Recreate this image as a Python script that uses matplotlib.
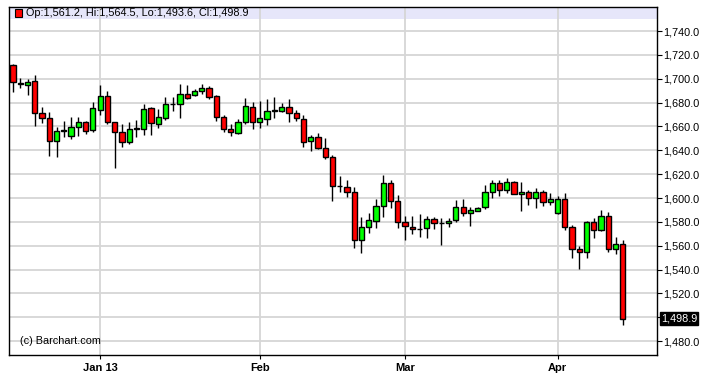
import numpy as np
import matplotlib

matplotlib.use("Agg")
import matplotlib.pyplot as plt
from matplotlib.patches import Rectangle
import matplotlib.transforms as mtransforms

# daily OHLC, mid Dec 2012 .. 12 Apr 2013
opens = [1711.2, 1696.6, 1694.7, 1698.0, 1671.0, 1666.8, 1647.7, 1656.4, 1651.7, 1659.2,
         1663.4, 1656.7, 1673.5, 1685.7, 1663.4, 1655.0, 1646.6, 1658.3, 1657.6, 1675.2,
         1661.7, 1666.8, 1678.5, 1679.0, 1686.9, 1686.0, 1689.7, 1692.0, 1685.7, 1667.6,
         1658.3, 1654.7, 1663.4, 1676.5, 1663.4, 1666.0, 1673.2, 1672.9, 1676.5, 1671.0,
         1666.0, 1647.5, 1650.8, 1641.6, 1634.1, 1609.7, 1608.9, 1604.7, 1564.5, 1575.6,
         1580.4, 1593.0, 1612.8, 1597.2, 1579.6, 1575.4, 1574.0, 1574.5, 1582.6, 1578.7,
         1578.7, 1581.5, 1592.1, 1587.1, 1589.3, 1592.1, 1604.7, 1612.3, 1606.6, 1613.6,
         1603.0, 1604.7, 1599.7, 1604.7, 1596.3, 1587.1, 1598.8, 1575.4, 1557.7, 1554.4,
         1580.1, 1573.1, 1584.6, 1557.7, 1561.2]
highs = [1712.0, 1700.3, 1700.0, 1703.0, 1676.5, 1671.8, 1659.7, 1665.0, 1667.9, 1667.6,
         1664.8, 1680.7, 1694.7, 1689.7, 1664.0, 1662.0, 1663.9, 1665.4, 1678.5, 1676.0,
         1674.3, 1684.4, 1684.4, 1695.3, 1694.7, 1691.3, 1696.0, 1694.1, 1686.0, 1669.5,
         1661.7, 1666.2, 1683.5, 1680.7, 1681.3, 1682.7, 1684.4, 1679.9, 1683.0, 1673.7,
         1669.5, 1652.8, 1654.2, 1650.0, 1636.0, 1618.6, 1615.0, 1609.4, 1584.3, 1587.1,
         1598.8, 1619.2, 1615.0, 1602.4, 1584.8, 1584.8, 1586.5, 1584.8, 1584.3, 1582.9,
         1583.4, 1598.3, 1598.8, 1592.1, 1592.6, 1610.8, 1615.0, 1615.0, 1616.5, 1614.5,
         1613.1, 1606.6, 1608.1, 1606.6, 1603.9, 1601.9, 1603.9, 1577.3, 1559.9, 1580.9,
         1583.4, 1589.9, 1588.0, 1567.5, 1564.5]
lows = [1689.0, 1692.4, 1686.3, 1660.6, 1662.6, 1635.4, 1634.6, 1651.1, 1649.4, 1652.2,
        1653.9, 1655.0, 1669.5, 1662.0, 1625.3, 1642.5, 1645.2, 1650.8, 1652.8, 1652.8,
        1658.4, 1665.4, 1673.2, 1666.8, 1683.0, 1685.5, 1686.9, 1683.0, 1664.8, 1655.5,
        1651.9, 1653.6, 1662.0, 1657.6, 1658.4, 1661.2, 1666.8, 1672.5, 1663.4, 1664.8,
        1643.0, 1639.4, 1641.0, 1632.6, 1597.4, 1604.7, 1600.5, 1558.3, 1554.1, 1570.8,
        1574.5, 1584.3, 1591.8, 1574.5, 1564.5, 1569.5, 1567.5, 1566.1, 1574.0, 1560.8,
        1575.9, 1579.6, 1585.1, 1576.7, 1589.0, 1590.7, 1599.7, 1601.9, 1603.9, 1603.0,
        1589.3, 1594.1, 1591.3, 1593.5, 1594.5, 1586.5, 1573.1, 1549.4, 1540.1, 1549.4,
        1566.1, 1572.0, 1554.9, 1553.0, 1493.6]
closes = [1697.0, 1695.3, 1697.5, 1671.0, 1666.8, 1647.7, 1656.4, 1657.0, 1659.2, 1663.4,
          1655.9, 1675.2, 1685.7, 1663.4, 1655.0, 1646.6, 1658.3, 1658.5, 1674.3, 1662.6,
          1667.6, 1678.5, 1678.8, 1686.9, 1683.5, 1689.4, 1692.0, 1685.0, 1667.6, 1658.3,
          1655.0, 1663.4, 1677.1, 1663.4, 1666.8, 1673.2, 1673.5, 1676.5, 1671.0, 1666.8,
          1647.2, 1650.8, 1641.6, 1634.1, 1609.7, 1609.9, 1604.7, 1564.5, 1575.4, 1581.2,
          1593.0, 1612.8, 1597.2, 1579.6, 1576.2, 1573.7, 1574.2, 1582.6, 1578.7, 1578.9,
          1580.9, 1592.1, 1587.1, 1589.6, 1591.3, 1604.7, 1612.3, 1606.6, 1613.6, 1603.3,
          1604.7, 1599.7, 1604.7, 1596.3, 1598.8, 1598.8, 1575.4, 1557.2, 1554.4, 1579.6,
          1573.1, 1584.6, 1557.7, 1561.1, 1498.9]

# first trading day of each month (bar index) and its label
month_idx = [12, 34, 54, 75]
month_labels = ["Jan 13", "Feb", "Mar", "Apr"]
price_ticks = [1480, 1500, 1520, 1540, 1560, 1580, 1600, 1620, 1640, 1660, 1680, 1700, 1720, 1740]

UP = "#00FF00"
DOWN = "#FF0000"
GRID = "#D6D6D6"

plt.rcParams["font.family"] = ["Liberation Sans", "DejaVu Sans"]

fig = plt.figure(figsize=(7.01, 3.75), dpi=100)
ax = fig.add_axes([9 / 701, 20 / 375, 648 / 701, 348 / 375])
ax.set_axisbelow(True)

w = 0.72
for i in range(len(closes)):
    o, h, l, c = opens[i], highs[i], lows[i], closes[i]
    ax.vlines(i, l, h, color="black", lw=1.0, zorder=2)
    ax.add_patch(Rectangle((i - w / 2, min(o, c)), w, abs(c - o),
                           facecolor=UP if c >= o else DOWN, edgecolor="black",
                           lw=1.0, zorder=3))

ax.set_xlim(-0.55, 88.7)
ax.set_ylim(1468.4, 1760.2)

ax.set_xticks(month_idx)
ax.set_xticklabels(month_labels, fontweight="bold", fontsize=8)
ax.set_yticks(price_ticks)
ax.set_yticklabels(["" if p == 1500 else f"{p:,.1f}" for p in price_ticks], fontsize=7.8)
ax.yaxis.tick_right()
ax.tick_params(axis="y", length=3.5, width=0.8, pad=1.2, color="black")
ax.tick_params(axis="x", length=3, width=0.8, pad=3, color="black")
ax.grid(True, color=GRID, lw=1.3)
for s in ax.spines.values():
    s.set_color("black")
    s.set_linewidth(1.0)

# header band with last bar values
ax.add_patch(Rectangle((0, 1 - 12 / 348), 1, 12 / 348, transform=ax.transAxes,
                       facecolor="#E6E6FA", edgecolor="none", zorder=0.2))
ax.add_patch(Rectangle((0.0085, 0.9725), 0.0115, 0.021, transform=ax.transAxes,
                       facecolor=DOWN, edgecolor="black", lw=0.8, zorder=4))
ax.text(0.027, 0.983,
        f"Op:{opens[-1]:,.1f}, Hi:{highs[-1]:,.1f}, Lo:{lows[-1]:,.1f}, Cl:{closes[-1]:,.1f}",
        transform=ax.transAxes, fontsize=7.8, va="center", ha="left", zorder=5)

ax.text(0.017, 0.040, "(c) Barchart.com", transform=ax.transAxes,
        fontsize=7.8, va="center", ha="left")

# last price marker on the price axis
trans = mtransforms.blended_transform_factory(ax.transAxes, ax.transData)
ax.text(1.006, closes[-1], f"{closes[-1]:,.1f}", transform=trans, fontsize=7.8,
        color="white", va="center", ha="left", clip_on=False, zorder=6,
        bbox=dict(boxstyle="square,pad=0.12", facecolor="black", edgecolor="black"))

fig.savefig("out.png", dpi=100, facecolor="white")
